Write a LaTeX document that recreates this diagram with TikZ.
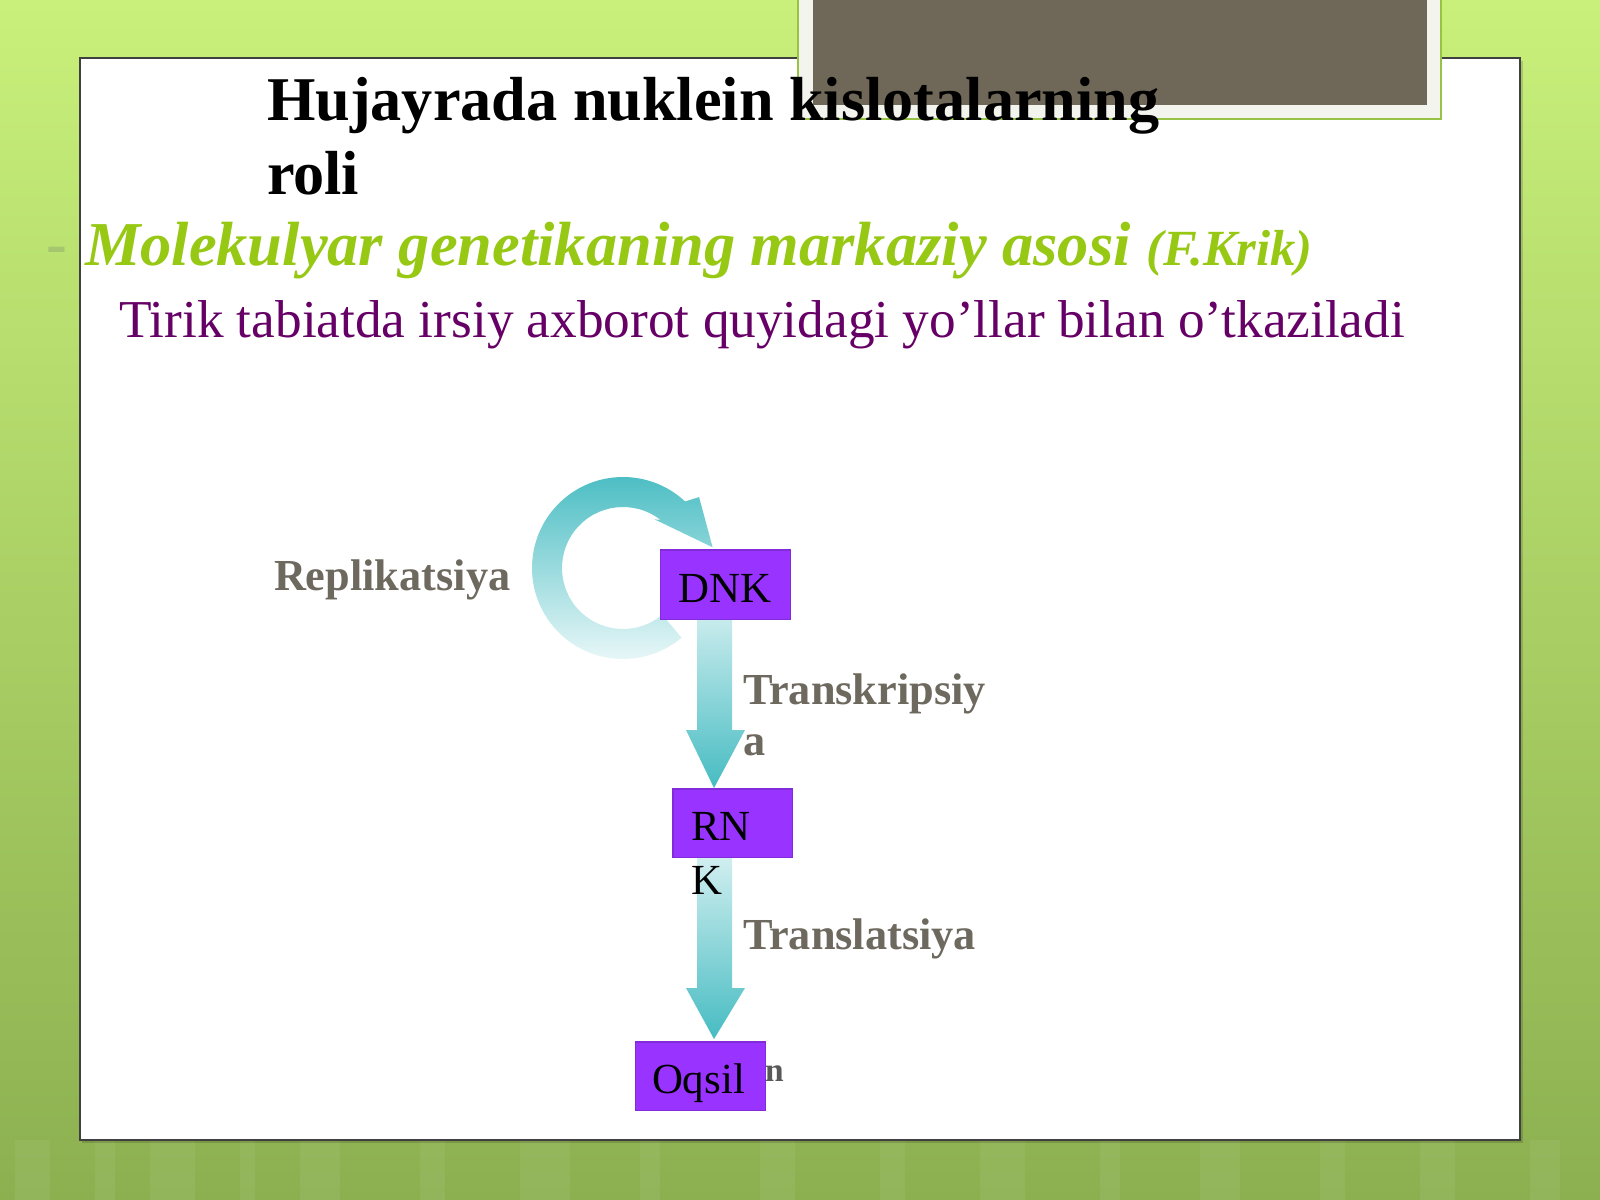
\documentclass[tikz,border=0pt]{standalone}
\usepackage{fontspec}
\setmainfont{Liberation Serif}
\definecolor{bgtop}{RGB}{200,240,122}
\definecolor{bgmid}{RGB}{170,216,94}
\definecolor{bgbot}{RGB}{140,176,80}
\definecolor{subgreen}{RGB}{150,200,20}
\definecolor{dashc}{RGB}{165,198,110}
\definecolor{plum}{RGB}{102,0,102}
\definecolor{labgray}{RGB}{110,105,95}
\definecolor{boxpurple}{RGB}{153,51,255}
\definecolor{arrteal}{RGB}{70,188,194}
\definecolor{graybox}{RGB}{111,104,88}
\definecolor{framew}{RGB}{244,244,238}
\definecolor{framegreen}{RGB}{150,195,70}
\tikzset{
  txt/.style={inner sep=0pt, outer sep=0pt, anchor=base west},
  titletxt/.style={txt, font=\fontsize{17.7pt}{21pt}\selectfont\bfseries, text=black},
  subtxt/.style={txt, font=\fontsize{17.75pt}{21pt}\selectfont\bfseries\itshape, text=subgreen},
  tiriktxt/.style={txt, font=\fontsize{15.15pt}{18pt}\selectfont, text=plum},
  labtxt/.style={txt, font=\fontsize{12.6pt}{15pt}\selectfont\bfseries, text=labgray},
  boxtxt/.style={txt, font=\fontsize{12.2pt}{15pt}\selectfont, text=black},
  pbox/.style={fill=boxpurple, draw=boxpurple!85!black, line width=0.3pt, inner sep=0pt, minimum height=0.68cm},
  vshade/.style={top color=arrteal!22!white, bottom color=arrteal}
}
\begin{document}
\begin{tikzpicture}[x=0.01cm,y=-0.01cm]
\useasboundingbox (0,0) rectangle (1600,1200);
% background
\shade[top color=bgtop, middle color=bgmid, bottom color=bgbot] (0,0) rectangle (1600,1200);
\foreach \sx/\sw in {15/35, 95/20, 150/45, 240/15, 300/40, 420/25, 520/50, 640/20, 760/35, 880/25, 980/45, 1100/20, 1200/40, 1320/25, 1420/35, 1530/30}
  \fill[white, opacity=0.06] (\sx,1140) rectangle ++(\sw,60);
% white panel
\fill[black, opacity=0.15] (82,61) rectangle (1523,1143);
\draw[fill=white, draw=black!75, line width=0.6pt] (80,58) rectangle (1520,1140);
% gray frame at top
\draw[fill=framew, draw=framegreen, line width=0.8pt] (798,-10) rectangle (1441,119);
\fill[graybox] (813,-10) rectangle (1427,105);
% title
\node[titletxt] (title1) at (267,120) {Hujayrada nuklein kislotalarning};
\node[titletxt] (title2) at (267,194) {roli};
\node[txt, font=\fontsize{17.7pt}{21pt}\selectfont\bfseries, text=dashc] (dash) at (47,264) {-};
\node[subtxt] (sub) at (85,265) {Molekulyar genetikaning markaziy asosi {\fontsize{14.4pt}{17pt}\selectfont (F.Krik)}};
\node[tiriktxt] (tirik) at (119,337) {Tirik tabiatda irsiy axborot quyidagi yo’llar bilan o’tkaziladi};
% circular replication arrow
\shade[top color=arrteal, middle color=arrteal!60!white, bottom color=arrteal!8!white]
  ([shift={(623,568)}]50:91) arc[start angle=50, end angle=313, radius=91]
  -- ([shift={(623,568)}]317:104) -- ([shift={(623,568)}]347:92)
  -- ([shift={(623,568)}]303:58) -- ([shift={(623,568)}]308:61)
  arc[start angle=308, end angle=50, radius=61] -- cycle;
% vertical arrows
\shade[vshade] (697,600) -- (732,600) -- (732,730) -- (745,730) -- (714,788) -- (686,730) -- (697,730) -- cycle;
\shade[vshade] (697,850) -- (732,850) -- (732,988) -- (745,988) -- (714,1039) -- (686,988) -- (697,988) -- cycle;
% boxes
\node[pbox, minimum width=1.29cm, minimum height=0.69cm] (dnk) at (725.5,584.5) {};
\node[pbox, minimum width=1.19cm] (rnk) at (732.5,823) {};
\node[pbox, minimum width=1.29cm] (oqsil) at (700.5,1076) {};
% box texts
\node[boxtxt, anchor=base] (dnkt) at (725,602) {DNK};
\node[boxtxt] (rnkt1) at (691,840) {RN};
\node[boxtxt] (rnkt2) at (691,894) {K};
\node[boxtxt] (oqsilt) at (652,1093) {Oqsil};
\node[txt, font=\fontsize{9.5pt}{11pt}\selectfont\bfseries, text=black!65] (nsmall) at (765,1081) {n};
% labels
\node[labtxt] (repl) at (274,590) {Replikatsiya};
\node[labtxt] (trans1) at (743,704) {Transkripsiy};
\node[labtxt] (trans2) at (743,755) {a};
\node[labtxt] (transl) at (743,949) {Translatsiya};
\end{tikzpicture}
\end{document}
